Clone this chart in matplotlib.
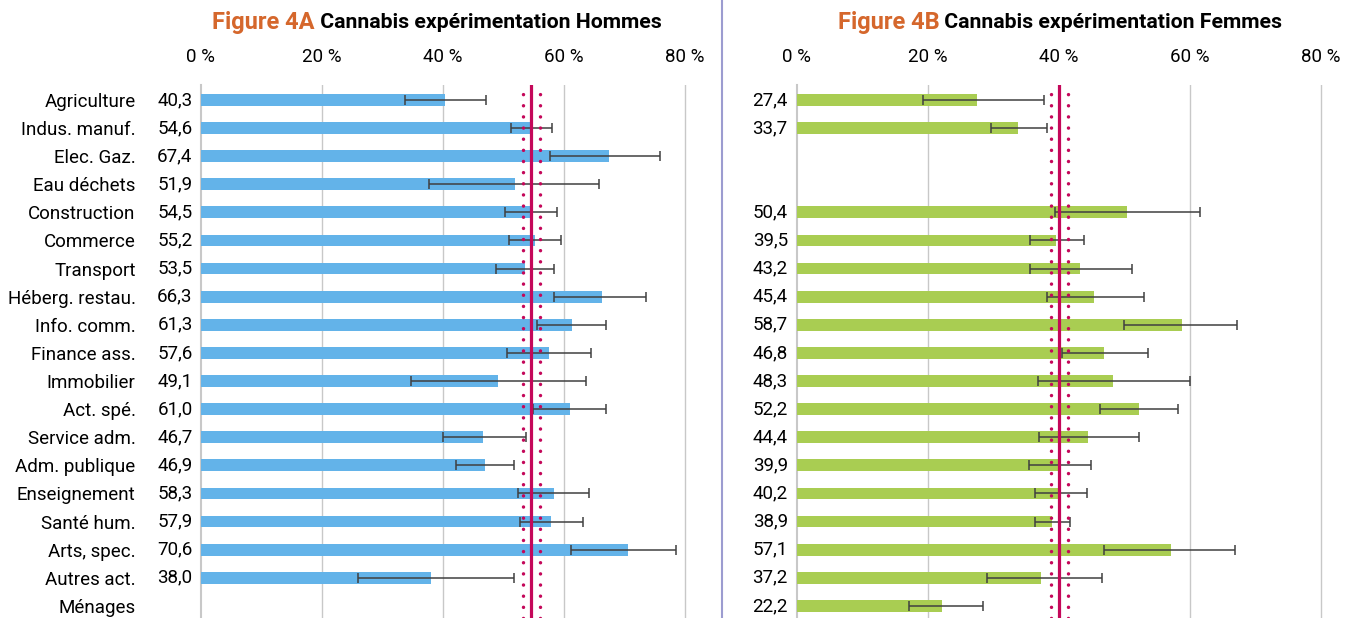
import numpy as np
import matplotlib
matplotlib.use('Agg')
import matplotlib.pyplot as plt
from matplotlib.lines import Line2D

plt.rcParams['font.family'] = ['Roboto', 'DejaVu Sans']

secteurs = ['Agriculture', 'Indus. manuf.', 'Elec. Gaz.', 'Eau déchets', 'Construction',
            'Commerce', 'Transport', 'Héberg. restau.', 'Info. comm.', 'Finance ass.',
            'Immobilier', 'Act. spé.', 'Service adm.', 'Adm. publique', 'Enseignement',
            'Santé hum.', 'Arts, spec.', 'Autres act.', 'Ménages']
nan = np.nan

hommes = [40.3, 54.6, 67.4, 51.9, 54.5, 55.2, 53.5, 66.3, 61.3, 57.6, 49.1, 61.0,
          46.7, 46.9, 58.3, 57.9, 70.6, 38.0, nan]
hommes_bas = [33.8, 51.2, 57.7, 37.7, 50.2, 50.9, 48.7, 58.4, 55.5, 50.6, 34.8, 54.9,
              40.0, 42.2, 52.4, 52.7, 61.1, 26.0, nan]
hommes_haut = [47.2, 58.0, 75.9, 65.8, 58.9, 59.6, 58.4, 73.5, 66.9, 64.5, 63.7, 66.9,
               53.7, 51.7, 64.1, 63.1, 78.6, 51.7, nan]

femmes = [27.4, 33.7, nan, nan, 50.4, 39.5, 43.2, 45.4, 58.7, 46.8, 48.3, 52.2,
          44.4, 39.9, 40.2, 38.9, 57.1, 37.2, 22.2]
femmes_bas = [19.2, 29.6, nan, nan, 39.4, 35.6, 35.6, 38.1, 49.9, 40.4, 36.8, 46.2,
              37.0, 35.4, 36.3, 36.3, 46.8, 29.0, 17.1]
femmes_haut = [37.7, 38.2, nan, nan, 61.5, 43.8, 51.2, 52.9, 67.1, 53.6, 60.0, 58.2,
               52.2, 44.8, 44.2, 41.6, 66.9, 46.5, 28.4]

# ensemble (moyenne et intervalle de confiance)
ref_hommes = [54.6, 53.3, 56.0]
ref_femmes = [40.0, 38.7, 41.4]

W, H = 1352, 618
fig = plt.figure(figsize=(W / 100, H / 100), dpi=100)

ROUGE = '#c4085a'
GRIS = '#c8c8c8'
FS = 13.5


def panneau(left, right, xmax, vals, bas, haut, ref, couleur, noms):
    ax = fig.add_axes([left / W, 0, (right - left) / W, 533 / H])
    y = np.arange(len(vals))
    v = np.array(vals, dtype=float)
    lo = np.array(bas, dtype=float)
    hi = np.array(haut, dtype=float)
    ok = ~np.isnan(v)
    ax.barh(y[ok], v[ok], height=0.42, color=couleur, zorder=2)
    ax.errorbar(v[ok], y[ok], xerr=[v[ok] - lo[ok], hi[ok] - v[ok]], fmt='none',
                ecolor='#404040', elinewidth=1.1, capsize=3.5, capthick=1.1, zorder=3)
    ax.axvline(ref[0], color=ROUGE, lw=2.3, zorder=4)
    for r in ref[1:]:
        ax.axvline(r, color=ROUGE, lw=2.5, linestyle=(0, (0.01, 3.2)),
                   dash_capstyle='round', zorder=4)
    ax.set_xlim(0, xmax)
    ax.set_ylim(18.43, -0.53)
    ax.set_xticks([0, 20, 40, 60, 80], ['0 %', '20 %', '40 %', '60 %', '80 %'])
    ax.xaxis.tick_top()
    ax.tick_params(axis='x', length=0, pad=14, labelsize=FS)
    for x in [20, 40, 60, 80]:
        ax.axvline(x, color=GRIS, lw=1, zorder=1)
    ax.axvline(0, color=GRIS, lw=1.5, zorder=1, clip_on=False)
    for s in ax.spines.values():
        s.set_visible(False)
    if noms:
        ax.set_yticks(y, secteurs)
        ax.tick_params(axis='y', length=0, pad=47, labelsize=FS)
    else:
        ax.set_yticks([])
    for i in y[ok]:
        ax.text(-1.4, i, f'{v[i]:.1f}'.replace('.', ','), ha='right', va='center',
                fontsize=FS, clip_on=False)
    return ax


panneau(201, 703, 83, hommes, hommes_bas, hommes_haut, ref_hommes, '#63b3e9', True)
panneau(797, 1352, 84.7, femmes, femmes_bas, femmes_haut, ref_femmes, '#a9cd52', False)

fig.add_artist(Line2D([722 / W, 722 / W], [0, 1], color='#9c9cd0', lw=1.5))

renderer = fig.canvas.get_renderer()


def titre(cx, lettre, suite):
    t1 = fig.text(0, 1 - 22 / H, f'Figure {lettre}', color='#d5672c', fontsize=17,
                  fontweight='bold', va='center', ha='left')
    t2 = fig.text(0, 1 - 22 / H, ' ' + suite, color='black', fontsize=15.3,
                  fontweight='bold', va='center', ha='left')
    w1 = t1.get_window_extent(renderer).width
    w2 = t2.get_window_extent(renderer).width
    x0 = cx - (w1 + w2) / 2
    t1.set_x(x0 / W)
    t2.set_x((x0 + w1) / W)


titre(437, '4A', 'Cannabis expérimentation Hommes')
titre(1060, '4B', 'Cannabis expérimentation Femmes')

fig.savefig('out.png', dpi=100)
